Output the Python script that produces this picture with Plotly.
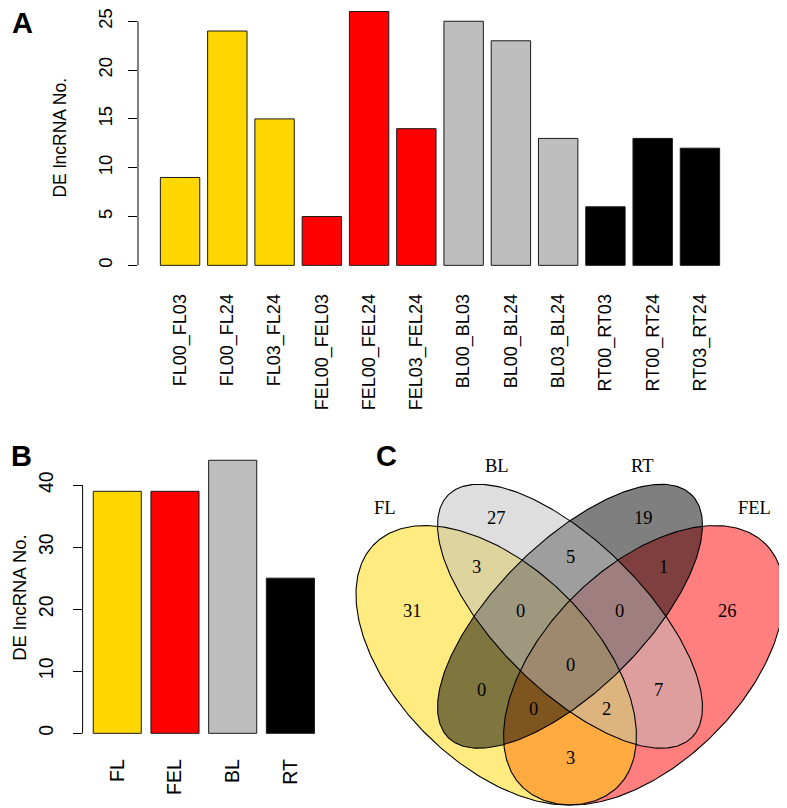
import numpy as np
import plotly.graph_objects as go

# ---------------- data ----------------
comparisons = ["FL00_FL03", "FL00_FL24", "FL03_FL24",
               "FEL00_FEL03", "FEL00_FEL24", "FEL03_FEL24",
               "BL00_BL03", "BL00_BL24", "BL03_BL24",
               "RT00_RT03", "RT00_RT24", "RT03_RT24"]
comparison_group = ["FL", "FL", "FL", "FEL", "FEL", "FEL",
                    "BL", "BL", "BL", "RT", "RT", "RT"]
de_counts = [9, 24, 15, 5, 26, 14, 25, 23, 13, 6, 13, 12]
ticks_a = [0, 5, 10, 15, 20, 25]

tissues = ["FL", "FEL", "BL", "RT"]
tissue_totals = [39, 39, 44, 25]
ticks_b = [0, 10, 20, 30, 40]

# Venn region counts (set membership -> count)
venn_regions = ["BL", "BL&RT", "RT", "FL&BL", "FL&BL&RT", "FL&BL&RT&FEL",
                "BL&RT&FEL", "RT&FEL", "FL", "FL&RT", "FL&RT&FEL",
                "FL&BL&FEL", "BL&FEL", "FEL", "FL&FEL"]
venn_counts = [27, 5, 19, 3, 0, 0, 0, 1, 31, 0, 0, 2, 7, 26, 3]

# ---------------- styling / layout constants ----------------
colors = {"FL": "#FFD700", "FEL": "#FF0000", "BL": "#BEBEBE", "RT": "#000000"}
venn_fill = {"FL": "rgba(255,215,0,0.5)", "FEL": "rgba(255,0,0,0.5)",
             "BL": "rgba(190,190,190,0.5)", "RT": "rgba(0,0,0,0.5)"}
# quad-venn ellipse geometry (unit square): cx, cy, a, b, angle(deg)
ellipses = {"FL": (0.35, 0.47, 0.35, 0.20, -45),
            "BL": (0.50, 0.57, 0.35, 0.15, -45),
            "RT": (0.50, 0.57, 0.35, 0.15, 45),
            "FEL": (0.65, 0.47, 0.35, 0.20, 45)}
draw_order = ["FEL", "FL", "RT", "BL"]
venn_label_pos = {"BL": (0.35, 0.77), "BL&RT": (0.5, 0.69), "RT": (0.65, 0.77),
                  "FL&BL": (0.31, 0.67), "FL&BL&RT": (0.40, 0.58),
                  "FL&BL&RT&FEL": (0.5, 0.47), "BL&RT&FEL": (0.60, 0.58),
                  "RT&FEL": (0.69, 0.67), "FL": (0.18, 0.58), "FL&RT": (0.32, 0.42),
                  "FL&RT&FEL": (0.425, 0.38), "FL&BL&FEL": (0.575, 0.38),
                  "BL&FEL": (0.68, 0.42), "FEL": (0.82, 0.58), "FL&FEL": (0.5, 0.28)}
cat_label_pos = {"FL": (0.124, 0.791), "BL": (0.352, 0.876),
                 "RT": (0.648, 0.876), "FEL": (0.876, 0.791)}

# the page body adds an 8px offset; the figure is sized to fit the window
OFF = 8
W, H = 787 - OFF, 808 - OFF
SANS = "Liberation Sans, Arial, Helvetica, sans-serif"
SERIF = "Liberation Serif, Times New Roman, serif"


def px(x):
    return (x - OFF) / W


def py(y):
    return 1 - (y - OFF) / H


fig = go.Figure()

# ---------------- panel A ----------------
fig.add_trace(go.Bar(
    x=comparisons, y=de_counts,
    marker=dict(color=[colors[g] for g in comparison_group],
                line=dict(color="#1a1a1a", width=1)),
    xaxis="x", yaxis="y", showlegend=False, hoverinfo="x+y"))

# ---------------- panel B ----------------
fig.add_trace(go.Bar(
    x=tissues, y=tissue_totals,
    marker=dict(color=[colors[t] for t in tissues],
                line=dict(color="#1a1a1a", width=1)),
    xaxis="x2", yaxis="y2", showlegend=False, hoverinfo="x+y"))

# ---------------- panel C : Venn ----------------
t = np.linspace(0, 2 * np.pi, 361)
ell_xy = {}
for name, (cx, cy, a, b, ang) in ellipses.items():
    th = np.deg2rad(ang)
    ex = cx + a * np.cos(t) * np.cos(th) - b * np.sin(t) * np.sin(th)
    ey = cy + a * np.cos(t) * np.sin(th) + b * np.sin(t) * np.cos(th)
    ell_xy[name] = (ex, ey)

for name in draw_order:
    ex, ey = ell_xy[name]
    fig.add_trace(go.Scatter(x=ex, y=ey, mode="lines", fill="toself",
                             fillcolor=venn_fill[name], line=dict(width=0),
                             xaxis="x3", yaxis="y3", showlegend=False,
                             hoverinfo="skip"))
for name in draw_order:
    ex, ey = ell_xy[name]
    fig.add_trace(go.Scatter(x=ex, y=ey, mode="lines",
                             line=dict(color="#000000", width=1.1),
                             xaxis="x3", yaxis="y3", showlegend=False,
                             hoverinfo="skip"))

annotations = []
for reg, cnt in zip(venn_regions, venn_counts):
    x, y = venn_label_pos[reg]
    annotations.append(dict(x=x, y=y, xref="x3", yref="y3", text=str(cnt),
                            xanchor="center", yanchor="middle",
                            showarrow=False, font=dict(family=SERIF, size=18.5,
                                                       color="#000")))
for name, (x, y) in cat_label_pos.items():
    annotations.append(dict(x=x, y=y, xref="x3", yref="y3", text=name,
                            xanchor="center", yanchor="middle",
                            showarrow=False, font=dict(family=SERIF, size=18.5,
                                                       color="#000")))

# axis titles & panel letters
for txt, x, y, size, ang in [("DE lncRNA No.", 60, 135, 17.5, -90),
                             ("DE lncRNA No.", 20, 597, 18.5, -90),
                             ("<b>A</b>", 22, 20, 29, 0),
                             ("<b>B</b>", 21, 455, 29, 0),
                             ("<b>C</b>", 386, 455, 29, 0)]:
    annotations.append(dict(x=px(x), y=py(y), xref="paper", yref="paper", text=txt,
                            textangle=ang, xanchor="center", yanchor="middle",
                            showarrow=False,
                            font=dict(family=SANS, size=size, color="#000")))

# axis lines only spanning the tick range (R style)
shapes = [
    dict(type="line", xref="paper", yref="y", x0=px(138), x1=px(138),
         y0=min(ticks_a), y1=max(ticks_a), line=dict(color="#000", width=1)),
    dict(type="line", xref="paper", yref="y2", x0=px(82.6), x1=px(82.6),
         y0=min(ticks_b), y1=max(ticks_b), line=dict(color="#000", width=1)),
]

common_y = dict(showgrid=False, zeroline=False, showline=False, ticks="outside",
                ticklen=9, tickwidth=1, tickcolor="#000", tickangle=-90,
                fixedrange=True, ticklabeloverflow="allow")
common_x = dict(type="category", showgrid=False, zeroline=False, showline=False,
                ticks="", tickangle=-90, fixedrange=True)

ya_scale = (263.3 - 18.3) / 25.0       # px per unit, panel A

fig.update_layout(
    width=W, height=H, margin=dict(l=0, r=0, t=0, b=0),
    paper_bgcolor="white", plot_bgcolor="white", bargap=1 - 1 / 1.2,
    showlegend=False,
    xaxis=dict(**common_x, domain=[px(138), px(742)], range=[-0.89, 11.89],
               anchor="y", ticklabelstandoff=14,
               tickfont=dict(family=SANS, size=18, color="#000")),
    yaxis=dict(**common_y, domain=[py(273.5), 1],
               range=[-1.04, (263.3 - OFF) / ya_scale],
               tickvals=ticks_a, anchor="x", ticklabelstandoff=9,
               tickfont=dict(family=SANS, size=18.5, color="#000")),
    xaxis2=dict(**common_x, domain=[px(82.6), px(323)], range=[-0.601, 3.565],
                anchor="y2", ticklabelstandoff=10,
                tickfont=dict(family=SANS, size=19.5, color="#000")),
    yaxis2=dict(**common_y, domain=[py(744), py(448)], range=[-1.76, 45.76],
                tickvals=ticks_b, anchor="x2", ticklabelstandoff=12,
                tickfont=dict(family=SANS, size=19.5, color="#000")),
    xaxis3=dict(visible=False, domain=[px(340), 1],
                range=[0.5 + (340 - 570) / 492, 0.5 + (787 - 570) / 492],
                anchor="y3", fixedrange=True),
    yaxis3=dict(visible=False, domain=[0, py(440)],
                range=[(896 - 808) / 492, (896 - 440) / 492],
                anchor="x3", fixedrange=True),
    annotations=annotations, shapes=shapes,
)

fig.write_html("out.html")
